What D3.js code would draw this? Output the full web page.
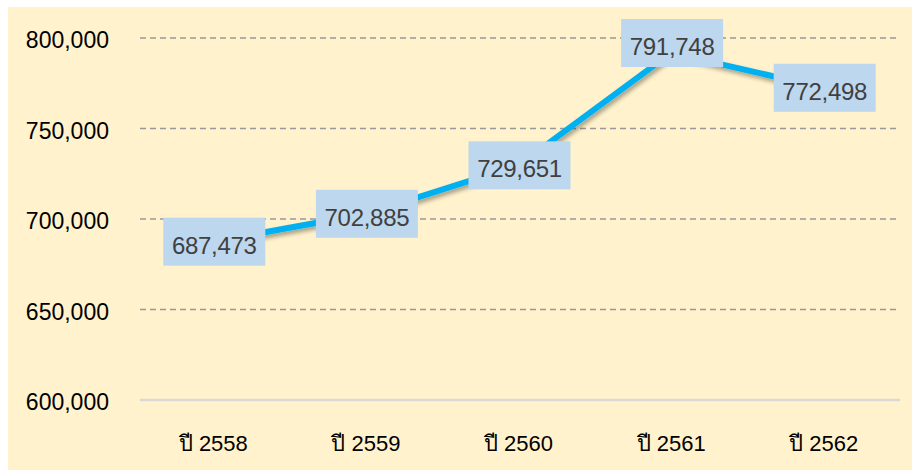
<!DOCTYPE html>
<html>
<head>
<meta charset="utf-8">
<script src="https://cdn.jsdelivr.net/npm/d3@7"></script>
<style>
  body { margin: 0; background: #ffffff; }
  svg { display: block; }
</style>
</head>
<body>
<svg id="chart"></svg>
<script>
var years = ["ปี 2558", "ปี 2559", "ปี 2560", "ปี 2561", "ปี 2562"];
var values = [687473, 702885, 729651, 791748, 772498];
var yTicks = [600000, 650000, 700000, 750000, 800000];

var W = 917, H = 475;
var svg = d3.select("#chart").attr("width", W).attr("height", H);

// cream background panel
svg.append("rect")
    .attr("x", 8).attr("y", 7)
    .attr("width", 904).attr("height", 463)
    .attr("fill", "#FFF2CC");

var defs = svg.append("defs");
var f = defs.append("filter").attr("id", "shadow")
    .attr("x", "-10%").attr("y", "-10%").attr("width", "120%").attr("height", "140%");
f.append("feDropShadow")
    .attr("dx", 2).attr("dy", 3).attr("stdDeviation", 2)
    .attr("flood-color", "#000").attr("flood-opacity", 0.35);

var xScale = d3.scaleBand().domain(years).range([137, 900]);
var yScale = d3.scaleLinear().domain([600000, 800000]).range([400, 38]);
var fmt = d3.format(",");
var font = "Liberation Sans, Arial, sans-serif";

// grid
svg.selectAll(".grid")
    .data(yTicks.slice(1))
    .enter().append("line")
    .attr("x1", 140).attr("x2", 900)
    .attr("y1", d => yScale(d)).attr("y2", d => yScale(d))
    .attr("stroke", "#999999")
    .attr("stroke-width", 1.5)
    .attr("stroke-dasharray", "6,4");

svg.append("line")
    .attr("x1", 140).attr("x2", 900)
    .attr("y1", yScale(600000)).attr("y2", yScale(600000))
    .attr("stroke", "#D9D9D9")
    .attr("stroke-width", 2.5);

// y labels
svg.selectAll(".ylab")
    .data(yTicks)
    .enter().append("text")
    .attr("x", 109)
    .attr("y", d => yScale(d) + 10)
    .attr("text-anchor", "end")
    .style("font-family", font)
    .style("font-size", "23px")
    .attr("fill", "#000")
    .text(d => fmt(d));

// x labels
svg.selectAll(".xlab")
    .data(years)
    .enter().append("text")
    .attr("x", d => xScale(d) + xScale.bandwidth() / 2)
    .attr("y", 451)
    .attr("text-anchor", "middle")
    .style("font-family", font)
    .style("font-size", "22px")
    .attr("fill", "#000")
    .text(d => d);

var line = d3.line()
    .x((d, i) => xScale(years[i]) + xScale.bandwidth() / 2)
    .y(d => yScale(d));

svg.append("path")
    .datum(values)
    .attr("d", line)
    .attr("fill", "none")
    .attr("stroke", "#00B0F0")
    .attr("stroke-width", 6)
    .attr("stroke-linejoin", "round")
    .attr("filter", "url(#shadow)");

// data labels; ones near the top edge get pushed up against the chart top
var boxH = 48, boxW = 102, topLimit = 19;
var labels = svg.selectAll(".dl")
    .data(values)
    .enter().append("g")
    .attr("transform", function(d, i) {
        var cy = yScale(d);
        if (cy - boxH / 2 < 40) cy = topLimit + boxH / 2;
        return "translate(" + (xScale(years[i]) + xScale.bandwidth() / 2 + 1) + "," + cy + ")";
    });

labels.append("rect")
    .attr("x", -boxW / 2).attr("y", -boxH / 2)
    .attr("width", boxW).attr("height", boxH)
    .attr("fill", "#BDD7EE");

labels.append("text")
    .attr("text-anchor", "middle")
    .attr("y", 12)
    .style("font-family", font)
    .style("font-size", "24px")
    .style("letter-spacing", "-0.3px")
    .attr("fill", "#404040")
    .text(d => fmt(d));
</script>
</body>
</html>
